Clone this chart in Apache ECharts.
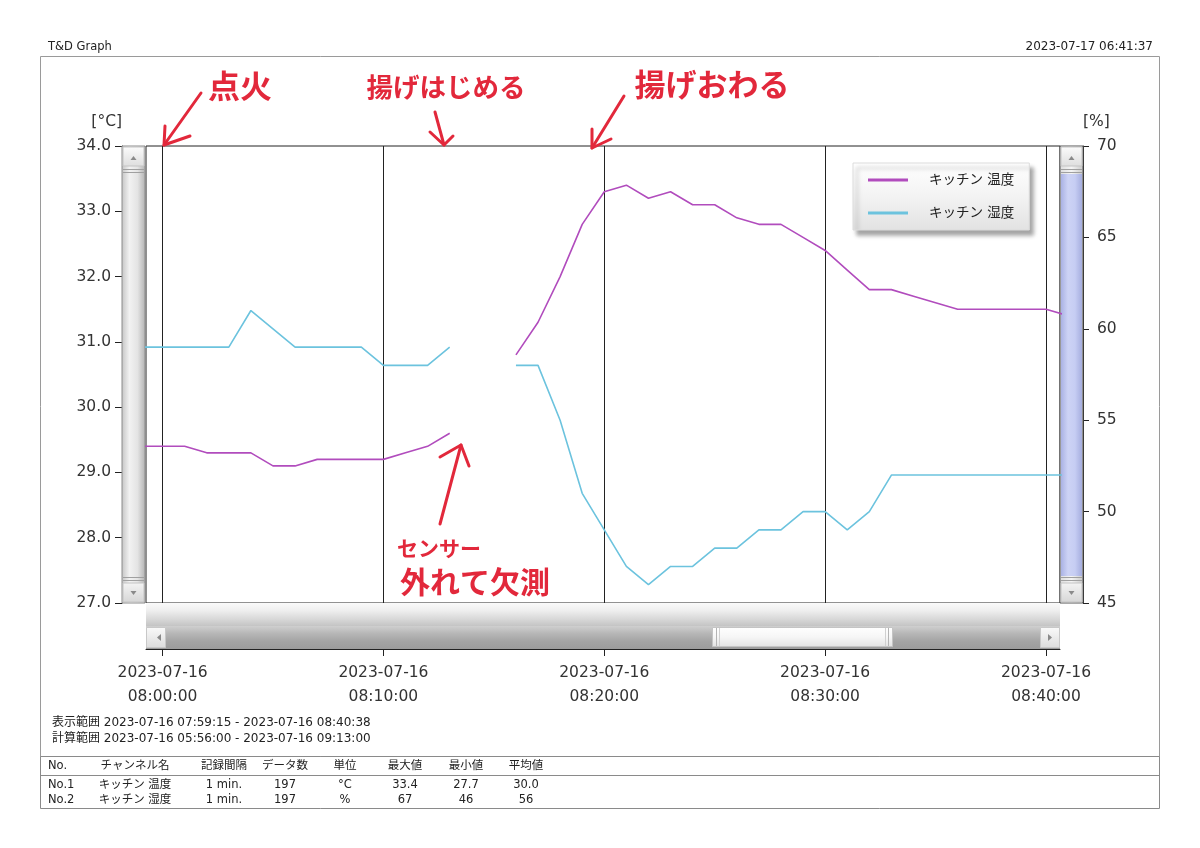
<!DOCTYPE html>
<html>
<head>
<meta charset="utf-8">
<script src="https://cdn.jsdelivr.net/npm/echarts@6/dist/echarts.min.js"></script>
<style>
html,body{margin:0;padding:0;background:#fff;}
#chart{width:1200px;height:848px;}
</style>
</head>
<body>
<div id="chart"></div>
<script>
// ---------------- data ----------------
const sampleTimes = ['07:59','08:00','08:01','08:02','08:03','08:04','08:05','08:06','08:07','08:08',
  '08:09','08:10','08:11','08:12','08:13','08:14','08:15','08:16','08:17','08:18',
  '08:19','08:20','08:21','08:22','08:23','08:24','08:25','08:26','08:27','08:28',
  '08:29','08:30','08:31','08:32','08:33','08:34','08:35','08:36','08:37','08:38',
  '08:39','08:40','08:41'];
const temperature = [29.4,29.4,29.4,29.3,29.3,29.3,29.1,29.1,29.2,29.2,
  29.2,29.2,29.3,29.4,29.6,null,null,30.8,31.3,32.0,
  32.8,33.3,33.4,33.2,33.3,33.1,33.1,32.9,32.8,32.8,
  32.6,32.4,32.1,31.8,31.8,31.7,31.6,31.5,31.5,31.5,
  31.5,31.5,31.4];
const humidity = [59,59,59,59,59,61,60,59,59,59,
  59,58,58,58,59,null,null,58,58,55,
  51,49,47,46,47,47,48,48,49,49,
  50,50,49,50,52,52,52,52,52,52,
  52,52,52];
const seriesNames = ['キッチン 温度','キッチン 湿度'];
const tickTimes = ['08:00:00','08:10:00','08:20:00','08:30:00','08:40:00'];
const viewRange = ['07:59:15','08:40:38'];
const tempAxis = [27, 34, 1];
const humAxis = [45, 70, 5];
const headerTitle = 'T&D Graph';
const headerDate = '2023-07-17 06:41:37';
const rangeLines = ['表示範囲 2023-07-16 07:59:15 - 2023-07-16 08:40:38',
                    '計算範囲 2023-07-16 05:56:00 - 2023-07-16 09:13:00'];
const tableHeader = ['No.','チャンネル名','記録間隔','データ数','単位','最大値','最小値','平均値'];
const tableRow1 = ['No.1','キッチン 温度','1 min.','197','°C','33.4','27.7','30.0'];
const tableRow2 = ['No.2','キッチン 湿度','1 min.','197','%','67','46','56'];
const notes = ['点火','揚げはじめる','揚げおわる','センサー','外れて欠測'];

// ---------------- helpers ----------------
function ts(hms){
  const p = hms.split(':').map(Number);
  return new Date(2023, 6, 16, p[0], p[1], p[2] || 0).getTime();
}
function pad(n){ return (n < 10 ? '0' : '') + n; }
function fmtTime(v){
  const d = new Date(v);
  return d.getFullYear() + '-' + pad(d.getMonth()+1) + '-' + pad(d.getDate()) + '\n' +
         pad(d.getHours()) + ':' + pad(d.getMinutes()) + ':' + pad(d.getSeconds());
}
function grad(x0,y0,x1,y1,colors){
  return new echarts.graphic.LinearGradient(x0,y0,x1,y1,
    colors.map((c,i)=>({offset:i/(colors.length-1), color:c})));
}
const tempData = sampleTimes.map((t,i)=>[ts(t), temperature[i]]);
const humData = sampleTimes.map((t,i)=>[ts(t), humidity[i]]);
const tickValues = tickTimes.map(ts);

const FONT = '"DejaVu Sans","Noto Sans CJK JP",sans-serif';
const TXT = '#333';
const RED = '#e2283b';
const g = [];

function rect(x,y,w,h,fill,stroke,z){ g.push({type:'rect', z: z||1, shape:{x,y,width:w,height:h}, style:{fill, stroke: stroke||null, lineWidth:1}}); }
function line(x1,y1,x2,y2,stroke,w,z){ g.push({type:'line', z: z||1, shape:{x1,y1,x2,y2}, style:{stroke, lineWidth:w||1}}); }
function poly(points,fill,z){ g.push({type:'polygon', z: z||2, shape:{points}, style:{fill}}); }
function pline(points,stroke,w,z){ g.push({type:'polyline', z: z||5, shape:{points}, style:{stroke, lineWidth:w, fill:null, lineCap:'round', lineJoin:'round'}}); }
function text(x,y,s,size,fill,align,weight,z){ g.push({type:'text', z: z||3, style:{x,y,text:s, fill, font:(weight||'normal')+' '+size+'px '+FONT, align:align||'left', verticalAlign:'middle'}}); }

// frame + header
text(48, 47, headerTitle, 11.5, '#222');
text(1153, 47, headerDate, 12, '#222', 'right');
rect(40.5, 56.5, 1119, 700, null, '#9a9a9a', 0);
// range text
text(52, 723, rangeLines[0], 12, '#222');
text(52, 739, rangeLines[1], 12, '#222');
// table
rect(40.5, 756.5, 1119, 52, null, '#8a8a8a', 0);
line(40, 775.5, 1160, 775.5, '#8a8a8a');
const colX = [48,135,224,285,345,405,466,526];
[tableHeader, tableRow1, tableRow2].forEach((row, r) => {
  const y = [766, 785, 800][r];
  row.forEach((s, c) => text(colX[c], y, s, 11.5, '#222', c === 0 ? 'left' : 'center'));
});

// left vertical scrollbar
(function(){
  const x = 122, w = 23;
  rect(x, 146, w, 457, grad(0,0,1,0,['#c4c4c4','#f2f2f2','#e4e4e4','#b2b2b2']), '#8c8c8c');
  rect(x+1, 147, w-2, 19, grad(0,0,0,1,['#fbfbfb','#dedede']), '#c4c4c4');
  poly([[x+8.5,160],[x+14.5,160],[x+11.5,156]], '#8a8a8a');
  line(x+1,169.5,x+w-1,169.5,'#a0a0a0'); line(x+1,172.5,x+w-1,172.5,'#a0a0a0');
  line(x+1,577.5,x+w-1,577.5,'#a0a0a0'); line(x+1,580.5,x+w-1,580.5,'#a0a0a0');
  rect(x+1, 583, w-2, 19, grad(0,0,0,1,['#f4f4f4','#d6d6d6']), '#c4c4c4');
  poly([[x+8.5,591],[x+14.5,591],[x+11.5,595]], '#8a8a8a');
})();
// right vertical scrollbar
(function(){
  const x = 1060, w = 23;
  rect(x, 146, w, 457, grad(0,0,1,0,['#dcdcdc','#f4f4f4','#c8c8c8']), '#555');
  rect(x+1, 174, w-2, 402, grad(0,0,1,0,['#aab2e4','#cdd3f5','#c6cdf3','#a6aedf']), null);
  rect(x+1, 147, w-2, 19, grad(0,0,0,1,['#fbfbfb','#dedede']), '#c4c4c4');
  poly([[x+8.5,160],[x+14.5,160],[x+11.5,156]], '#8a8a8a');
  line(x+1,169.5,x+w-1,169.5,'#a0a0a0'); line(x+1,172.5,x+w-1,172.5,'#a0a0a0');
  line(x+1,577.5,x+w-1,577.5,'#a0a0a0'); line(x+1,580.5,x+w-1,580.5,'#a0a0a0');
  rect(x+1, 583, w-2, 19, grad(0,0,0,1,['#f4f4f4','#d6d6d6']), '#c4c4c4');
  poly([[x+8.5,591],[x+14.5,591],[x+11.5,595]], '#8a8a8a');
})();
// horizontal scrollbar
(function(){
  rect(146, 603, 914, 23, grad(0,0,0,1,['#fafafa','#eeeeee','#dadada','#c4c4c4']), null);
  rect(146, 626, 914, 23, grad(0,0,0,1,['#cfcfcf','#b6b6b6','#a4a4a4','#9c9c9c']), null);
  rect(146.5, 627.5, 19, 20, grad(0,0,0,1,['#fafafa','#dcdcdc']), '#c8c8c8');
  poly([[161,634],[161,641],[157,637.5]], '#8a8a8a');
  rect(1040.5, 627.5, 19, 20, grad(0,0,0,1,['#fafafa','#dcdcdc']), '#c8c8c8');
  poly([[1048,634],[1048,641],[1052,637.5]], '#8a8a8a');
  rect(712.5, 627.5, 180, 19, grad(0,0,0,1,['#ffffff','#f6f6f6','#e2e2e2']), '#c4c4c4');
  line(716.5,628,716.5,646,'#b4b4b4'); line(719.5,628,719.5,646,'#d0d0d0');
  line(885.5,628,885.5,646,'#d0d0d0'); line(888.5,628,888.5,646,'#b4b4b4');
})();

// annotations (handwritten notes)
text(240, 90, notes[0], 32, RED, 'center', 'bold', 10);
text(446, 90, notes[1], 26.5, RED, 'center', 'bold', 10);
text(712, 88, notes[2], 31, RED, 'center', 'bold', 10);
text(397, 551, notes[3], 21, RED, 'left', 'bold', 10);
text(400, 585, notes[4], 30, RED, 'left', 'bold', 10);
pline([[201,93],[164,145]], RED, 3);
pline([[165,126],[164,145],[190,136]], RED, 3);
pline([[435,112],[444,145]], RED, 3);
pline([[430,132],[444,145],[453,136]], RED, 3);
pline([[624,96],[592,148]], RED, 3);
pline([[592,129],[592,148],[611,139]], RED, 3);
pline([[440,524],[461,445]], RED, 3);
pline([[440,457],[461,445],[469,466]], RED, 3);

// ---------------- chart ----------------
const chart = echarts.init(document.getElementById('chart'), null, {renderer:'canvas'});
const axisLbl = {color: TXT, fontFamily: FONT, fontSize: 15.5};
chart.setOption({
  animation: false,
  backgroundColor: '#fff',
  grid: {left:146, right:140, top:146, bottom:245, show:true, borderColor:'#222', borderWidth:1, backgroundColor:'#fff', containLabel:false},
  legend: {
    orient:'vertical', left:853, top:163, selectedMode:false,
    padding:[10,15,10,15], itemGap:19, itemWidth:40, itemHeight:3, icon:'rect',
    backgroundColor: grad(0,0,0,1,['#ffffff','#f3f3f3','#e2e2e2']),
    borderColor:'#dcdcdc', borderWidth:1,
    shadowColor:'rgba(0,0,0,0.35)', shadowBlur:4, shadowOffsetX:4, shadowOffsetY:5,
    textStyle:{fontFamily:FONT, fontSize:13.5, color:'#222', padding:[0,0,0,16], lineHeight:14},
    data: seriesNames
  },
  xAxis: {
    type:'value', min: ts(viewRange[0]), max: ts(viewRange[1]), offset:46,
    axisLine:{show:true, onZero:false, lineStyle:{color:'#222', width:1}},
    axisTick:{show:true, length:7, lineStyle:{color:'#222'}, customValues: tickValues},
    axisLabel:Object.assign({customValues: tickValues, formatter: fmtTime, margin:12, lineHeight:24}, axisLbl),
    splitLine:{show:true, lineStyle:{color:'#222', width:1}}
  },
  yAxis: [
    {type:'value', position:'left', min:tempAxis[0], max:tempAxis[1], interval:tempAxis[2], offset:24,
     name:'[°C]', nameLocation:'end', nameGap:16,
     nameTextStyle:{align:'right', color:TXT, fontFamily:FONT, fontSize:15.5},
     axisLine:{show:true, lineStyle:{color:'#222'}},
     axisTick:{show:true, length:7, lineStyle:{color:'#222'}},
     axisLabel:Object.assign({formatter: v => v.toFixed(1), margin:11}, axisLbl),
     splitLine:{show:false}},
    {type:'value', position:'right', min:humAxis[0], max:humAxis[1], interval:humAxis[2], offset:23,
     name:'[%]', nameLocation:'end', nameGap:16,
     nameTextStyle:{align:'left', color:TXT, fontFamily:FONT, fontSize:15.5},
     axisLine:{show:true, lineStyle:{color:'#222'}},
     axisTick:{show:true, length:6, lineStyle:{color:'#222'}},
     axisLabel:Object.assign({margin:14}, axisLbl),
     splitLine:{show:false}}
  ],
  series: [
    {name:seriesNames[0], type:'line', yAxisIndex:0, data: tempData, showSymbol:false, symbol:'none',
     connectNulls:false, color:'#b14cbd', lineStyle:{width:1.6, color:'#b14cbd'}, z:3},
    {name:seriesNames[1], type:'line', yAxisIndex:1, data: humData, showSymbol:false, symbol:'none',
     connectNulls:false, color:'#6cc3de', lineStyle:{width:1.6, color:'#6cc3de'}, z:3}
  ],
  graphic: g
});
</script>
</body>
</html>
